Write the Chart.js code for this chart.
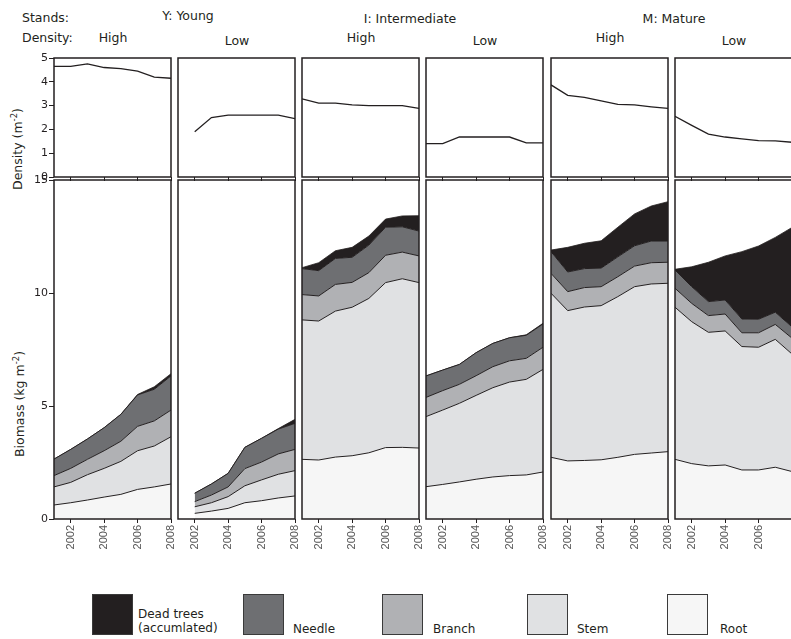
<!DOCTYPE html>
<html><head><meta charset="utf-8">
<script src="https://cdn.jsdelivr.net/npm/chart.js@4.4.1/dist/chart.umd.min.js"></script>
<style>
html,body{margin:0;padding:0;background:#fff;overflow:hidden;width:791px;height:639px;}
body{position:relative;font-family:'DejaVu Sans',sans-serif;color:#231f20;}
.h{position:absolute;white-space:nowrap;font-size:12.5px;line-height:1;}
.c{transform:translateX(-50%);}
.vt{position:absolute;white-space:nowrap;font-size:12.5px;line-height:1;transform:translate(-50%,-50%) rotate(-90deg);}
.vt sup{font-size:8.5px;vertical-align:5px;line-height:0;}
canvas{position:absolute;}
.box{position:absolute;width:41px;height:41px;border:1px solid #3a3a3a;box-sizing:border-box;}
.lt{position:absolute;white-space:nowrap;font-size:12px;line-height:1;}
</style></head><body>
<div id="root"></div>
<script>
// ---------- data ----------
const years = [2001, 2002, 2003, 2004, 2005, 2006, 2007, 2008];
const xTickYears = [2002, 2004, 2006, 2008];
const densityTicks = [0, 1, 2, 3, 4, 5];
const biomassTicks = [0, 5, 10, 15];
const standNames = ['Y: Young', 'I: Intermediate', 'M: Mature'];
const densityLevels = ['High', 'Low', 'High', 'Low', 'High', 'Low'];
const seriesNames = ['Dead trees', 'Needle', 'Branch', 'Stem', 'Root'];

// density (m^-2)
const densityYH = [4.65, 4.65, 4.75, 4.6, 4.55, 4.45, 4.2, 4.15];
const densityYL = [null, 1.9, 2.5, 2.6, 2.6, 2.6, 2.6, 2.45];
const densityIH = [3.28, 3.1, 3.1, 3.03, 3.0, 3.0, 3.0, 2.88];
const densityIL = [1.4, 1.4, 1.68, 1.68, 1.68, 1.68, 1.43, 1.43];
const densityMH = [3.87, 3.43, 3.35, 3.2, 3.05, 3.03, 2.95, 2.88];
const densityML = [2.55, 2.17, 1.8, 1.68, 1.6, 1.53, 1.52, 1.46];

// biomass components (kg m^-2)
const rootYH   = [0.62, 0.72, 0.84, 0.97, 1.09, 1.31, 1.42, 1.55];
const stemYH   = [0.80, 0.90, 1.12, 1.27, 1.46, 1.71, 1.81, 2.09];
const branchYH = [0.50, 0.62, 0.68, 0.78, 0.89, 1.08, 1.11, 1.18];
const needleYH = [0.73, 0.84, 0.90, 1.02, 1.19, 1.39, 1.40, 1.51];
const deadYH   = [0, 0, 0, 0, 0, 0.02, 0.11, 0.10];

const rootYL   = [null, 0.25, 0.35, 0.47, 0.72, 0.81, 0.93, 1.02];
const stemYL   = [null, 0.29, 0.37, 0.52, 0.75, 0.92, 1.05, 1.12];
const branchYL = [null, 0.23, 0.34, 0.43, 0.76, 0.79, 0.90, 0.94];
const needleYL = [null, 0.37, 0.49, 0.60, 0.94, 1.05, 1.10, 1.15];
const deadYL   = [null, 0, 0, 0, 0, 0, 0.02, 0.18];

const rootIH   = [2.64, 2.61, 2.74, 2.80, 2.93, 3.16, 3.17, 3.14];
const stemIH   = [6.17, 6.15, 6.46, 6.57, 6.83, 7.30, 7.46, 7.32];
const branchIH = [1.12, 1.11, 1.18, 1.10, 1.14, 1.21, 1.18, 1.18];
const needleIH = [1.15, 1.12, 1.15, 1.11, 1.22, 1.24, 1.12, 1.10];
const deadIH   = [0.04, 0.35, 0.34, 0.44, 0.40, 0.36, 0.48, 0.68];

const rootIL   = [1.43, 1.53, 1.64, 1.76, 1.86, 1.92, 1.95, 2.08];
const stemIL   = [3.10, 3.29, 3.48, 3.71, 3.95, 4.14, 4.23, 4.54];
const branchIL = [0.85, 0.86, 0.84, 0.87, 0.93, 0.94, 0.93, 0.98];
const needleIL = [0.95, 0.91, 0.88, 1.02, 1.03, 1.02, 1.02, 1.03];
const deadIL   = [0, 0, 0, 0, 0, 0, 0.02, 0.03];

const rootMH   = [2.73, 2.57, 2.59, 2.62, 2.73, 2.86, 2.92, 2.98];
const stemMH   = [7.26, 6.65, 6.79, 6.82, 7.11, 7.42, 7.48, 7.45];
const branchMH = [0.88, 0.84, 0.86, 0.84, 0.88, 0.91, 0.94, 0.93];
const needleMH = [0.96, 0.87, 0.84, 0.82, 0.88, 0.90, 0.96, 0.94];
const deadMH   = [0.07, 1.09, 1.12, 1.21, 1.31, 1.41, 1.55, 1.74];

const rootML   = [2.64, 2.45, 2.35, 2.39, 2.17, 2.17, 2.29, 2.10];
const stemML   = [6.73, 6.28, 5.91, 5.93, 5.46, 5.43, 5.66, 5.20];
const branchML = [0.84, 0.81, 0.74, 0.75, 0.61, 0.64, 0.66, 0.70];
const needleML = [0.81, 0.74, 0.62, 0.62, 0.61, 0.60, 0.54, 0.50];
const deadML   = [0.03, 0.88, 1.74, 1.95, 2.98, 3.24, 3.31, 4.40];

// ---------- styling / layout ----------
const INK = '#231f20';
const layerColors = { dead: '#231f20', needle: '#6e6f72', branch: '#b0b1b4', stem: '#e0e1e3', root: '#f6f6f6' };
const panelLeft = [54, 178, 302, 426, 551, 675];
const panelW = 117;
const topPanel = { top: 58, h: 119 };
const botPanel = { top: 180, h: 339 };

const panels = [
  { d: densityYH, root: rootYH, stem: stemYH, branch: branchYH, needle: needleYH, dead: deadYH },
  { d: densityYL, root: rootYL, stem: stemYL, branch: branchYL, needle: needleYL, dead: deadYL },
  { d: densityIH, root: rootIH, stem: stemIH, branch: branchIH, needle: needleIH, dead: deadIH },
  { d: densityIL, root: rootIL, stem: stemIL, branch: branchIL, needle: needleIL, dead: deadIL },
  { d: densityMH, root: rootMH, stem: stemMH, branch: branchMH, needle: needleMH, dead: deadMH },
  { d: densityML, root: rootML, stem: stemML, branch: branchML, needle: needleML, dead: deadML }
];

const root = document.getElementById('root');
function el(tag, cls, style, html) {
  const e = document.createElement(tag);
  if (cls) e.className = cls;
  Object.assign(e.style, style);
  if (html !== undefined) e.innerHTML = html;
  root.appendChild(e);
  return e;
}

// header texts
el('div', 'h', { left: '22px', top: '12.4px' }, 'Stands:');
el('div', 'h', { left: '22px', top: '31.7px' }, 'Density:');
const standCx = [188, 410, 674], standTop = [10.4, 12.6, 12.7];
standNames.forEach((s, i) => el('div', 'h c', { left: standCx[i] + 'px', top: standTop[i] + 'px' }, s));
densityLevels.forEach((s, i) => el('div', 'h c', { left: (panelLeft[i] + panelW / 2 + 0.5) + 'px', top: (s === 'High' ? 31.7 : 34.9) + 'px' }, s));

// axis titles
el('div', 'vt', { left: '18px', top: '149px' }, 'Density (m<sup>-2</sup>)');
el('div', 'vt', { left: '20px', top: '404px' }, 'Biomass (kg m<sup>-2</sup>)');

// legend
const legendKeys = ['dead', 'needle', 'branch', 'stem', 'root'];
const legendBoxX = [92, 243, 382, 527, 667];
const legendTextX = [138, 293, 433, 577, 720];
legendKeys.forEach((k, i) => {
  el('div', 'box', { left: legendBoxX[i] + 'px', top: '594px', background: layerColors[k] });
  if (i === 0) {
    el('div', 'lt', { left: legendTextX[i] + 'px', top: '607.5px' }, seriesNames[i]);
    el('div', 'lt', { left: legendTextX[i] + 'px', top: '621.5px' }, '(accumlated)');
  } else {
    el('div', 'lt', { left: legendTextX[i] + 'px', top: '622.5px' }, seriesNames[i]);
  }
});

// ---------- charts ----------
const framePlugin = {
  id: 'frame',
  afterDraw(c) {
    const a = c.chartArea, ctx = c.ctx;
    ctx.save();
    ctx.strokeStyle = INK;
    ctx.lineWidth = 1.5;
    ctx.strokeRect(a.left, a.top, a.right - a.left, a.bottom - a.top);
    ctx.restore();
  }
};

function makeChart(i, isBottom) {
  const first = i === 0;
  const padL = first ? 0 : 6, yW = first ? 30 : 0, padR = 6, padT = 8;
  const xH = isBottom ? 45 : 8;
  const P = isBottom ? botPanel : topPanel;
  const W = padL + yW + panelW + padR;
  const H = padT + P.h + xH;
  const cv = document.createElement('canvas');
  cv.width = W; cv.height = H;
  cv.style.left = (panelLeft[i] - padL - yW) + 'px';
  cv.style.top = (P.top - padT) + 'px';
  cv.style.width = W + 'px'; cv.style.height = H + 'px';
  root.appendChild(cv);

  const p = panels[i];
  const xt = (i === panels.length - 1) ? xTickYears.filter(v => v < years[years.length - 1]) : xTickYears;
  const yt = isBottom ? biomassTicks : densityTicks;

  let datasets;
  if (isBottom) {
    const mk = (key, fill) => ({
      label: key, data: p[key], fill: fill,
      backgroundColor: layerColors[key], borderColor: INK,
      borderWidth: key === 'dead' ? 0.8 : 1, pointRadius: 0, tension: 0, spanGaps: false
    });
    datasets = [mk('root', 'origin'), mk('stem', '-1'), mk('branch', '-1'), mk('needle', '-1'), mk('dead', '-1')];
  } else {
    datasets = [{ label: 'density', data: p.d, fill: false, borderColor: INK, borderWidth: 1.3, pointRadius: 0, tension: 0, spanGaps: false }];
  }

  new Chart(cv, {
    type: 'line',
    data: { labels: years, datasets },
    plugins: [framePlugin],
    options: {
      responsive: false, animation: false, devicePixelRatio: 1,
      layout: { padding: { left: padL, right: padR, top: padT, bottom: 0 } },
      plugins: { legend: { display: false }, tooltip: { enabled: false } },
      scales: {
        x: {
          type: 'linear', min: years[0], max: years[years.length - 1],
          afterBuildTicks: s => { s.ticks = xt.map(v => ({ value: v })); },
          afterFit: s => { s.height = xH; s.paddingLeft = 0; s.paddingRight = 0; },
          grid: { display: true, drawOnChartArea: false, drawTicks: true, tickLength: 4, color: INK, lineWidth: 1 },
          border: { display: false },
          ticks: {
            display: isBottom, autoSkip: false, minRotation: 90, maxRotation: 90, padding: 2,
            color: '#555', font: { family: 'Liberation Sans', size: 11 },
            callback: v => String(v)
          }
        },
        y: {
          display: first, stacked: isBottom,
          min: yt[0], max: yt[yt.length - 1],
          afterBuildTicks: s => { s.ticks = yt.map(v => ({ value: v })); },
          afterFit: s => { s.width = yW; s.paddingTop = 0; s.paddingBottom = 0; },
          grid: { display: true, drawOnChartArea: false, drawTicks: true, tickLength: 5, color: INK, lineWidth: 1 },
          border: { display: false },
          ticks: { padding: 1, color: INK, font: { family: 'DejaVu Sans', size: 11 } }
        }
      }
    }
  });
}

for (let i = 0; i < panels.length; i++) { makeChart(i, false); makeChart(i, true); }
</script>
</body></html>
